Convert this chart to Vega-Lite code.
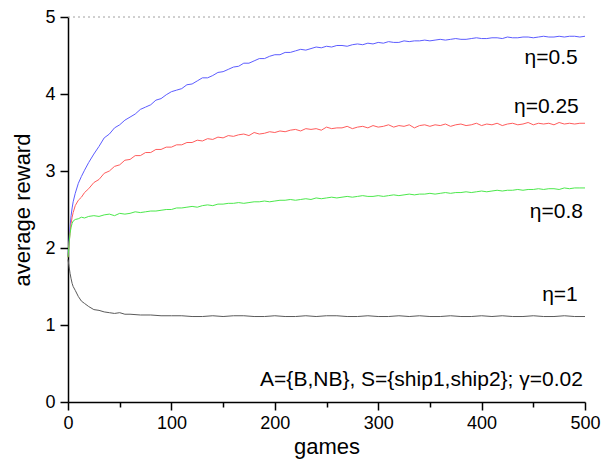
{
  "$schema": "https://vega.github.io/schema/vega-lite/v6.json",
  "width": 517,
  "height": 385,
  "autosize": {"type": "none"},
  "padding": {"left": 68, "top": 17, "right": 28, "bottom": 62},
  "config": {"view": {"stroke": null}, "font": "Liberation Sans"},
  "datasets": {
    "curves": [
      {"s":"b","g":0,"v":1.90},{"s":"b","g":1,"v":2.10},{"s":"b","g":2,"v":2.28},{"s":"b","g":3,"v":2.42},{"s":"b","g":4,"v":2.52},{"s":"b","g":5,"v":2.60},{"s":"b","g":7,"v":2.71},{"s":"b","g":10,"v":2.84},{"s":"b","g":13,"v":2.93},{"s":"b","g":16,"v":3.01},{"s":"b","g":20,"v":3.11},{"s":"b","g":25,"v":3.22},{"s":"b","g":30,"v":3.32},{"s":"b","g":35,"v":3.43},{"s":"b","g":40,"v":3.48},{"s":"b","g":45,"v":3.56},{"s":"b","g":50,"v":3.60},{"s":"b","g":55,"v":3.66},{"s":"b","g":60,"v":3.70},{"s":"b","g":65,"v":3.74},{"s":"b","g":70,"v":3.80},{"s":"b","g":75,"v":3.83},{"s":"b","g":80,"v":3.86},{"s":"b","g":85,"v":3.92},{"s":"b","g":90,"v":3.94},{"s":"b","g":95,"v":3.99},{"s":"b","g":100,"v":4.03},{"s":"b","g":105,"v":4.05},{"s":"b","g":110,"v":4.07},{"s":"b","g":115,"v":4.12},{"s":"b","g":120,"v":4.13},{"s":"b","g":125,"v":4.17},{"s":"b","g":130,"v":4.21},{"s":"b","g":135,"v":4.21},{"s":"b","g":140,"v":4.24},{"s":"b","g":145,"v":4.28},{"s":"b","g":150,"v":4.29},{"s":"b","g":155,"v":4.32},{"s":"b","g":160,"v":4.35},{"s":"b","g":165,"v":4.36},{"s":"b","g":170,"v":4.40},{"s":"b","g":175,"v":4.40},{"s":"b","g":180,"v":4.43},{"s":"b","g":185,"v":4.46},{"s":"b","g":190,"v":4.46},{"s":"b","g":195,"v":4.49},{"s":"b","g":200,"v":4.51},{"s":"b","g":205,"v":4.51},{"s":"b","g":210,"v":4.54},{"s":"b","g":215,"v":4.54},{"s":"b","g":220,"v":4.56},{"s":"b","g":225,"v":4.58},{"s":"b","g":230,"v":4.57},{"s":"b","g":235,"v":4.59},{"s":"b","g":240,"v":4.61},{"s":"b","g":245,"v":4.60},{"s":"b","g":250,"v":4.62},{"s":"b","g":255,"v":4.61},{"s":"b","g":260,"v":4.63},{"s":"b","g":265,"v":4.63},{"s":"b","g":270,"v":4.62},{"s":"b","g":275,"v":4.64},{"s":"b","g":280,"v":4.65},{"s":"b","g":285,"v":4.64},{"s":"b","g":290,"v":4.66},{"s":"b","g":295,"v":4.65},{"s":"b","g":300,"v":4.67},{"s":"b","g":305,"v":4.66},{"s":"b","g":310,"v":4.68},{"s":"b","g":315,"v":4.67},{"s":"b","g":320,"v":4.67},{"s":"b","g":325,"v":4.69},{"s":"b","g":330,"v":4.68},{"s":"b","g":335,"v":4.69},{"s":"b","g":340,"v":4.69},{"s":"b","g":345,"v":4.70},{"s":"b","g":350,"v":4.69},{"s":"b","g":355,"v":4.70},{"s":"b","g":360,"v":4.71},{"s":"b","g":365,"v":4.70},{"s":"b","g":370,"v":4.71},{"s":"b","g":375,"v":4.72},{"s":"b","g":380,"v":4.71},{"s":"b","g":385,"v":4.71},{"s":"b","g":390,"v":4.72},{"s":"b","g":395,"v":4.73},{"s":"b","g":400,"v":4.72},{"s":"b","g":405,"v":4.72},{"s":"b","g":410,"v":4.73},{"s":"b","g":415,"v":4.73},{"s":"b","g":420,"v":4.72},{"s":"b","g":425,"v":4.74},{"s":"b","g":430,"v":4.73},{"s":"b","g":435,"v":4.73},{"s":"b","g":440,"v":4.74},{"s":"b","g":445,"v":4.74},{"s":"b","g":450,"v":4.73},{"s":"b","g":455,"v":4.74},{"s":"b","g":460,"v":4.75},{"s":"b","g":465,"v":4.74},{"s":"b","g":470,"v":4.74},{"s":"b","g":475,"v":4.75},{"s":"b","g":480,"v":4.74},{"s":"b","g":485,"v":4.75},{"s":"b","g":490,"v":4.75},{"s":"b","g":495,"v":4.74},{"s":"b","g":500,"v":4.75},
      {"s":"r","g":0,"v":1.88},{"s":"r","g":1,"v":2.05},{"s":"r","g":2,"v":2.20},{"s":"r","g":3,"v":2.32},{"s":"r","g":4,"v":2.40},{"s":"r","g":5,"v":2.46},{"s":"r","g":7,"v":2.55},{"s":"r","g":10,"v":2.62},{"s":"r","g":13,"v":2.66},{"s":"r","g":16,"v":2.72},{"s":"r","g":20,"v":2.77},{"s":"r","g":25,"v":2.85},{"s":"r","g":30,"v":2.89},{"s":"r","g":35,"v":2.97},{"s":"r","g":40,"v":3.00},{"s":"r","g":45,"v":3.06},{"s":"r","g":50,"v":3.08},{"s":"r","g":55,"v":3.14},{"s":"r","g":60,"v":3.15},{"s":"r","g":65,"v":3.20},{"s":"r","g":70,"v":3.20},{"s":"r","g":75,"v":3.24},{"s":"r","g":80,"v":3.24},{"s":"r","g":85,"v":3.28},{"s":"r","g":90,"v":3.28},{"s":"r","g":95,"v":3.31},{"s":"r","g":100,"v":3.31},{"s":"r","g":105,"v":3.34},{"s":"r","g":110,"v":3.34},{"s":"r","g":115,"v":3.37},{"s":"r","g":120,"v":3.37},{"s":"r","g":125,"v":3.40},{"s":"r","g":130,"v":3.39},{"s":"r","g":135,"v":3.42},{"s":"r","g":140,"v":3.41},{"s":"r","g":145,"v":3.44},{"s":"r","g":150,"v":3.43},{"s":"r","g":155,"v":3.46},{"s":"r","g":160,"v":3.45},{"s":"r","g":165,"v":3.47},{"s":"r","g":170,"v":3.48},{"s":"r","g":175,"v":3.46},{"s":"r","g":180,"v":3.50},{"s":"r","g":185,"v":3.48},{"s":"r","g":190,"v":3.49},{"s":"r","g":195,"v":3.51},{"s":"r","g":200,"v":3.50},{"s":"r","g":205,"v":3.52},{"s":"r","g":210,"v":3.51},{"s":"r","g":215,"v":3.53},{"s":"r","g":220,"v":3.54},{"s":"r","g":225,"v":3.52},{"s":"r","g":230,"v":3.55},{"s":"r","g":235,"v":3.54},{"s":"r","g":240,"v":3.55},{"s":"r","g":245,"v":3.53},{"s":"r","g":250,"v":3.57},{"s":"r","g":255,"v":3.55},{"s":"r","g":260,"v":3.56},{"s":"r","g":265,"v":3.56},{"s":"r","g":270,"v":3.58},{"s":"r","g":275,"v":3.55},{"s":"r","g":280,"v":3.57},{"s":"r","g":285,"v":3.58},{"s":"r","g":290,"v":3.56},{"s":"r","g":295,"v":3.59},{"s":"r","g":300,"v":3.57},{"s":"r","g":305,"v":3.58},{"s":"r","g":310,"v":3.60},{"s":"r","g":315,"v":3.57},{"s":"r","g":320,"v":3.59},{"s":"r","g":325,"v":3.58},{"s":"r","g":330,"v":3.60},{"s":"r","g":335,"v":3.56},{"s":"r","g":340,"v":3.59},{"s":"r","g":345,"v":3.60},{"s":"r","g":350,"v":3.58},{"s":"r","g":355,"v":3.60},{"s":"r","g":360,"v":3.59},{"s":"r","g":365,"v":3.61},{"s":"r","g":370,"v":3.58},{"s":"r","g":375,"v":3.60},{"s":"r","g":380,"v":3.61},{"s":"r","g":385,"v":3.59},{"s":"r","g":390,"v":3.60},{"s":"r","g":395,"v":3.62},{"s":"r","g":400,"v":3.59},{"s":"r","g":405,"v":3.61},{"s":"r","g":410,"v":3.60},{"s":"r","g":415,"v":3.62},{"s":"r","g":420,"v":3.59},{"s":"r","g":425,"v":3.61},{"s":"r","g":430,"v":3.62},{"s":"r","g":435,"v":3.60},{"s":"r","g":440,"v":3.61},{"s":"r","g":445,"v":3.63},{"s":"r","g":450,"v":3.60},{"s":"r","g":455,"v":3.62},{"s":"r","g":460,"v":3.61},{"s":"r","g":465,"v":3.62},{"s":"r","g":470,"v":3.60},{"s":"r","g":475,"v":3.63},{"s":"r","g":480,"v":3.61},{"s":"r","g":485,"v":3.62},{"s":"r","g":490,"v":3.61},{"s":"r","g":495,"v":3.62},{"s":"r","g":500,"v":3.62},
      {"s":"g","g":0,"v":1.88},{"s":"g","g":1,"v":2.05},{"s":"g","g":2,"v":2.19},{"s":"g","g":3,"v":2.27},{"s":"g","g":4,"v":2.32},{"s":"g","g":5,"v":2.35},{"s":"g","g":7,"v":2.37},{"s":"g","g":10,"v":2.38},{"s":"g","g":13,"v":2.40},{"s":"g","g":16,"v":2.39},{"s":"g","g":20,"v":2.41},{"s":"g","g":25,"v":2.42},{"s":"g","g":30,"v":2.41},{"s":"g","g":35,"v":2.43},{"s":"g","g":40,"v":2.44},{"s":"g","g":45,"v":2.42},{"s":"g","g":50,"v":2.45},{"s":"g","g":55,"v":2.44},{"s":"g","g":60,"v":2.45},{"s":"g","g":65,"v":2.47},{"s":"g","g":70,"v":2.46},{"s":"g","g":75,"v":2.47},{"s":"g","g":80,"v":2.48},{"s":"g","g":85,"v":2.48},{"s":"g","g":90,"v":2.49},{"s":"g","g":95,"v":2.50},{"s":"g","g":100,"v":2.50},{"s":"g","g":105,"v":2.52},{"s":"g","g":110,"v":2.52},{"s":"g","g":115,"v":2.53},{"s":"g","g":120,"v":2.54},{"s":"g","g":125,"v":2.53},{"s":"g","g":130,"v":2.55},{"s":"g","g":135,"v":2.56},{"s":"g","g":140,"v":2.55},{"s":"g","g":145,"v":2.57},{"s":"g","g":150,"v":2.57},{"s":"g","g":155,"v":2.58},{"s":"g","g":160,"v":2.58},{"s":"g","g":165,"v":2.59},{"s":"g","g":170,"v":2.58},{"s":"g","g":175,"v":2.59},{"s":"g","g":180,"v":2.60},{"s":"g","g":185,"v":2.60},{"s":"g","g":190,"v":2.61},{"s":"g","g":195,"v":2.60},{"s":"g","g":200,"v":2.61},{"s":"g","g":205,"v":2.62},{"s":"g","g":210,"v":2.62},{"s":"g","g":215,"v":2.63},{"s":"g","g":220,"v":2.62},{"s":"g","g":225,"v":2.63},{"s":"g","g":230,"v":2.64},{"s":"g","g":235,"v":2.63},{"s":"g","g":240,"v":2.65},{"s":"g","g":245,"v":2.64},{"s":"g","g":250,"v":2.65},{"s":"g","g":255,"v":2.66},{"s":"g","g":260,"v":2.65},{"s":"g","g":265,"v":2.66},{"s":"g","g":270,"v":2.67},{"s":"g","g":275,"v":2.66},{"s":"g","g":280,"v":2.67},{"s":"g","g":285,"v":2.68},{"s":"g","g":290,"v":2.67},{"s":"g","g":295,"v":2.67},{"s":"g","g":300,"v":2.68},{"s":"g","g":305,"v":2.67},{"s":"g","g":310,"v":2.68},{"s":"g","g":315,"v":2.69},{"s":"g","g":320,"v":2.68},{"s":"g","g":325,"v":2.69},{"s":"g","g":330,"v":2.70},{"s":"g","g":335,"v":2.69},{"s":"g","g":340,"v":2.70},{"s":"g","g":345,"v":2.70},{"s":"g","g":350,"v":2.71},{"s":"g","g":355,"v":2.70},{"s":"g","g":360,"v":2.71},{"s":"g","g":365,"v":2.72},{"s":"g","g":370,"v":2.71},{"s":"g","g":375,"v":2.72},{"s":"g","g":380,"v":2.72},{"s":"g","g":385,"v":2.73},{"s":"g","g":390,"v":2.72},{"s":"g","g":395,"v":2.73},{"s":"g","g":400,"v":2.74},{"s":"g","g":405,"v":2.73},{"s":"g","g":410,"v":2.74},{"s":"g","g":415,"v":2.75},{"s":"g","g":420,"v":2.74},{"s":"g","g":425,"v":2.75},{"s":"g","g":430,"v":2.75},{"s":"g","g":435,"v":2.76},{"s":"g","g":440,"v":2.75},{"s":"g","g":445,"v":2.76},{"s":"g","g":450,"v":2.76},{"s":"g","g":455,"v":2.77},{"s":"g","g":460,"v":2.76},{"s":"g","g":465,"v":2.77},{"s":"g","g":470,"v":2.77},{"s":"g","g":475,"v":2.76},{"s":"g","g":480,"v":2.78},{"s":"g","g":485,"v":2.77},{"s":"g","g":490,"v":2.78},{"s":"g","g":495,"v":2.78},{"s":"g","g":500,"v":2.78},
      {"s":"k","g":0,"v":1.85},{"s":"k","g":1,"v":1.76},{"s":"k","g":2,"v":1.67},{"s":"k","g":3,"v":1.60},{"s":"k","g":4,"v":1.54},{"s":"k","g":5,"v":1.50},{"s":"k","g":7,"v":1.45},{"s":"k","g":10,"v":1.37},{"s":"k","g":13,"v":1.31},{"s":"k","g":16,"v":1.28},{"s":"k","g":20,"v":1.24},{"s":"k","g":25,"v":1.20},{"s":"k","g":30,"v":1.19},{"s":"k","g":35,"v":1.17},{"s":"k","g":40,"v":1.16},{"s":"k","g":45,"v":1.15},{"s":"k","g":50,"v":1.16},{"s":"k","g":55,"v":1.14},{"s":"k","g":60,"v":1.14},{"s":"k","g":70,"v":1.13},{"s":"k","g":80,"v":1.13},{"s":"k","g":90,"v":1.12},{"s":"k","g":100,"v":1.12},{"s":"k","g":110,"v":1.12},{"s":"k","g":120,"v":1.11},{"s":"k","g":130,"v":1.11},{"s":"k","g":140,"v":1.12},{"s":"k","g":150,"v":1.11},{"s":"k","g":160,"v":1.12},{"s":"k","g":170,"v":1.12},{"s":"k","g":180,"v":1.11},{"s":"k","g":190,"v":1.11},{"s":"k","g":200,"v":1.12},{"s":"k","g":210,"v":1.11},{"s":"k","g":220,"v":1.11},{"s":"k","g":230,"v":1.12},{"s":"k","g":240,"v":1.11},{"s":"k","g":250,"v":1.12},{"s":"k","g":260,"v":1.12},{"s":"k","g":270,"v":1.11},{"s":"k","g":280,"v":1.11},{"s":"k","g":290,"v":1.12},{"s":"k","g":300,"v":1.11},{"s":"k","g":310,"v":1.11},{"s":"k","g":320,"v":1.12},{"s":"k","g":330,"v":1.11},{"s":"k","g":340,"v":1.12},{"s":"k","g":350,"v":1.11},{"s":"k","g":360,"v":1.11},{"s":"k","g":370,"v":1.12},{"s":"k","g":380,"v":1.11},{"s":"k","g":390,"v":1.11},{"s":"k","g":400,"v":1.12},{"s":"k","g":410,"v":1.11},{"s":"k","g":420,"v":1.12},{"s":"k","g":430,"v":1.11},{"s":"k","g":440,"v":1.11},{"s":"k","g":450,"v":1.12},{"s":"k","g":460,"v":1.11},{"s":"k","g":470,"v":1.11},{"s":"k","g":480,"v":1.12},{"s":"k","g":490,"v":1.11},{"s":"k","g":500,"v":1.11}
    ],
    "labels": [
      {"g": 493, "v": 4.47, "t": "η=0.5"},
      {"g": 494, "v": 3.83, "t": "η=0.25"},
      {"g": 498, "v": 2.47, "t": "η=0.8"},
      {"g": 493, "v": 1.39, "t": "η=1"}
    ],
    "note": [
      {"g": 498, "v": 0.28, "t": "A={B,NB}, S={ship1,ship2}; γ=0.02"}
    ],
    "top": [{"v": 5}]
  },
  "layer": [
    {
      "data": {"name": "top"},
      "mark": {"type": "rule", "color": "#a0a0a0", "strokeDash": [2, 3], "strokeWidth": 1},
      "encoding": {
        "y": {"field": "v", "type": "quantitative", "scale": {"domain": [0, 5], "nice": false}}
      }
    },
    {
      "data": {"name": "curves"},
      "mark": {"type": "line", "strokeWidth": 1},
      "encoding": {
        "x": {
          "field": "g", "type": "quantitative",
          "scale": {"domain": [0, 500], "nice": false},
          "axis": {
            "title": "games",
            "values": [0, 50, 100, 150, 200, 250, 300, 350, 400, 450, 500],
            "labelExpr": "datum.value % 100 === 0 ? format(datum.value, 'd') : ''",
            "grid": false,
            "domainColor": "black", "domainWidth": 1.5,
            "tickColor": "black", "tickWidth": 1.5,
            "tickSize": {"condition": {"test": "datum.value % 100 === 0", "value": 8}, "value": 5},
            "labelFontSize": 18, "labelColor": "black", "labelPadding": 4, "labelFlush": false,
            "titleFontSize": 22, "titleFontWeight": "normal", "titleColor": "black", "titlePadding": 4
          }
        },
        "y": {
          "field": "v", "type": "quantitative",
          "scale": {"domain": [0, 5], "nice": false},
          "axis": {
            "title": "average reward",
            "values": [0, 0.5, 1, 1.5, 2, 2.5, 3, 3.5, 4, 4.5, 5],
            "labelExpr": "datum.value % 1 === 0 ? format(datum.value, 'd') : ''",
            "grid": false,
            "domainColor": "black", "domainWidth": 1.5,
            "tickColor": "black", "tickWidth": 1.5,
            "tickSize": {"condition": {"test": "datum.value % 1 === 0", "value": 8}, "value": 5},
            "labelFontSize": 18, "labelColor": "black", "labelPadding": 5, "labelFlush": false,
            "titleFontSize": 22, "titleFontWeight": "normal", "titleColor": "black", "titlePadding": 10
          }
        },
        "color": {
          "field": "s", "type": "nominal",
          "scale": {"domain": ["b", "r", "g", "k"], "range": ["#5c5cff", "#ff5c5c", "#4ce84c", "#5a5a5a"]},
          "legend": null
        }
      }
    },
    {
      "data": {"name": "labels"},
      "mark": {"type": "text", "align": "right", "baseline": "middle", "fontSize": 21, "color": "black"},
      "encoding": {
        "x": {"field": "g", "type": "quantitative"},
        "y": {"field": "v", "type": "quantitative"},
        "text": {"field": "t"}
      }
    },
    {
      "data": {"name": "note"},
      "mark": {"type": "text", "align": "right", "baseline": "middle", "fontSize": 21, "color": "black"},
      "encoding": {
        "x": {"field": "g", "type": "quantitative"},
        "y": {"field": "v", "type": "quantitative"},
        "text": {"field": "t"}
      }
    }
  ]
}
